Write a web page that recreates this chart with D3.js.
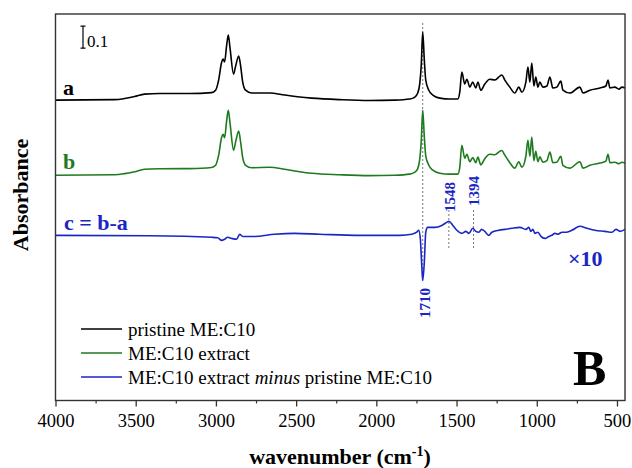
<!DOCTYPE html>
<html><head><meta charset="utf-8">
<script src="https://cdn.jsdelivr.net/npm/d3@7"></script>
<style>body{margin:0;background:#fff}svg{display:block}svg text{font-family:"Liberation Serif","Times New Roman",serif !important}</style>
</head><body>
<svg id="chart" width="632" height="468"></svg>
<script>
// wavenumbers (cm-1) shared by spectra a and b
const wavenumbers = [4000,3632,3570,3507,3445,3351,3164,3027,3002,2983,2964,2955,2946,2933,2923,2912,2890,2877,2858,2846,2833,2815,2777,2665,2571,2478,2403,2228,2047,1885,1792,1760,1742,1729,1720,1711,1701,1692,1673,1648,1604,1542,1492,1480,1467,1449,1436,1417,1399,1380,1367,1349,1324,1293,1261,1230,1218,1199,1168,1137,1112,1093,1068,1055,1043,1031,1018,1006,993,981,962,937,918,900,875,850,837,794,731,712,669,606,569,556,544,513,488,469,450];
// a: pristine ME:C10 (absorbance)
const pristine = [0,0.002,0.007,0.016,0.027,0.030,0.030,0.034,0.045,0.091,0.173,0.186,0.173,0.250,0.295,0.236,0.118,0.155,0.200,0.155,0.082,0.045,0.032,0.032,0.023,0.014,0.009,0.002,-0.002,0,0.005,0.014,0.032,0.077,0.159,0.309,0.182,0.091,0.045,0.023,0.009,0.005,0.005,0.036,0.127,0.073,0.095,0.059,0.082,0.055,0.082,0.045,0.073,0.095,0.091,0.109,0.114,0.091,0.059,0.032,0.059,0.036,0.082,0.150,0.082,0.168,0.064,0.105,0.059,0.082,0.059,0.064,0.105,0.055,0.059,0.086,0.045,0.032,0.059,0.032,0.045,0.055,0.064,0.091,0.055,0.059,0.050,0.059,0.055];
// b: ME:C10 extract (absorbance)
const extract = [0,0.002,0.007,0.016,0.027,0.029,0.030,0.035,0.045,0.091,0.173,0.186,0.170,0.248,0.295,0.236,0.114,0.152,0.200,0.150,0.080,0.045,0.034,0.036,0.027,0.016,0.009,0.002,-0.002,0,0.005,0.014,0.030,0.075,0.155,0.295,0.175,0.088,0.045,0.023,0.009,0.005,0.005,0.036,0.136,0.077,0.095,0.061,0.080,0.057,0.082,0.047,0.075,0.095,0.093,0.109,0.112,0.091,0.057,0.032,0.061,0.036,0.086,0.159,0.086,0.173,0.066,0.109,0.061,0.084,0.059,0.066,0.105,0.057,0.059,0.086,0.045,0.032,0.061,0.032,0.045,0.055,0.064,0.095,0.057,0.059,0.052,0.059,0.055];
// c = b - a (raw difference; drawn x10)
const diffWavenumbers = [4000,3414,3027,2989,2964,2946,2927,2902,2871,2852,2833,2759,2634,2509,2353,2104,1854,1779,1748,1736,1726,1717,1711,1701,1692,1680,1636,1592,1561,1548,1523,1498,1467,1442,1423,1399,1380,1361,1343,1324,1299,1280,1236,1199,1155,1105,1068,1049,1037,1024,1012,993,974,949,924,906,887,868,843,818,781,731,687,638,575,531,506,481,450];
const difference = [0,-0.0002,-0.0009,-0.0011,-0.0023,-0.0018,-0.0009,-0.0014,-0.0018,0.0005,-0.0005,-0.0005,0.0005,0.0009,0.0005,0,0,0.0005,0.0014,0.0023,-0.0014,-0.0136,-0.0205,-0.0123,0.0014,0.0036,0.0036,0.0045,0.0059,0.0064,0.0045,0.0023,0.0009,0.0018,0.0009,0.0032,0.0018,0.0014,0.0027,0.0018,0,0.0014,0.0023,0.0027,0.0032,0.0036,0.0027,0.0036,0.0018,0.0027,0.0009,0.0014,-0.0005,-0.0014,-0.0005,0,0.0009,0.0005,0.0014,0.0014,0.0023,0.0041,0.0032,0.0023,0.0018,0.0014,0.0027,0.0018,0.0027];
const diffFactor = 10;
const offsets = {a: 1.364, b: 1.023, c: 0.75};
const xTicks = [4000,3500,3000,2500,2000,1500,1000,500];
const xMinorTicks = [3750,3250,2750,2250,1750,1250,750];
const peakLabels = ["1710","1548","1394"];
const peakWavenumbers = [1711,1548,1394];
const legendLabels = ["pristine ME:C10","ME:C10 extract","ME:C10 extract minus pristine ME:C10"];

const FONT = '"Liberation Serif","Times New Roman",serif';
const colors = {a:"#000000", b:"#1e7a1e", c:"#1a26c4"};
const svg = d3.select("#chart").attr("font-family", FONT);
const L=55.5, R=625, T=14, B=400.5;
const x = d3.scaleLinear().domain([4000,450]).range([L,R]);
const y = d3.scaleLinear().domain([0,1.755]).range([B,T]);

const line = d3.line().curve(d3.curveMonotoneX);
const series = [
  {key:"a", pts: wavenumbers.map((w,i)=>[x(w), y(pristine[i]+offsets.a)])},
  {key:"b", pts: wavenumbers.map((w,i)=>[x(w), y(extract[i]+offsets.b)])},
  {key:"c", pts: diffWavenumbers.map((w,i)=>[x(w), y(difference[i]*diffFactor+offsets.c)])}
];

// dotted guides
const guide = (w,y1,y2)=>svg.append("line").attr("x1",x(w)).attr("x2",x(w)).attr("y1",y1).attr("y2",y2)
  .attr("stroke","#777").attr("stroke-width",1).attr("stroke-dasharray","2,2");
guide(peakWavenumbers[0], 23, y(offsets.c-0.205));
guide(peakWavenumbers[1], 210, 249);
guide(peakWavenumbers[2], 210, 249);

series.forEach(s=>{
  svg.append("path").attr("d", line(s.pts)).attr("fill","none")
    .attr("stroke", colors[s.key]).attr("stroke-width",1.6).attr("stroke-linejoin","round");
});

// frame
svg.append("rect").attr("x",L).attr("y",T).attr("width",R-L).attr("height",B-T)
  .attr("fill","none").attr("stroke","#333").attr("stroke-width",1.4);

// x axis
const ax = svg.append("g").attr("transform",`translate(0,${B})`)
  .call(d3.axisBottom(x).tickValues(xTicks).tickSize(6).tickFormat(d3.format("d")));
ax.attr("font-family", FONT);
ax.select(".domain").remove();
ax.selectAll("line").attr("stroke","#333").attr("stroke-width",1.3);
ax.selectAll("text").attr("font-size",18.5).attr("fill","#000").attr("dy","0.93em");
const axm = svg.append("g").attr("transform",`translate(0,${B})`)
  .call(d3.axisBottom(x).tickValues(xMinorTicks).tickSize(3).tickFormat(""));
axm.select(".domain").remove();
axm.selectAll("line").attr("stroke","#333").attr("stroke-width",1.2);

svg.append("text").attr("x",340).attr("y",464).attr("text-anchor","middle")
  .attr("font-size",22).attr("font-weight","bold")
  .html('wavenumber (cm<tspan dy="-8" font-size="14">-1</tspan><tspan dy="8">)</tspan>');
svg.append("text").attr("transform","translate(28,195) rotate(-90)").attr("text-anchor","middle")
  .attr("font-size",22).attr("font-weight","bold").text("Absorbance");

// scale bar
const sb = svg.append("g").attr("stroke","#000").attr("stroke-width",1.2);
sb.append("line").attr("x1",83).attr("x2",83).attr("y1",y(1.70)).attr("y2",y(1.60));
sb.append("line").attr("x1",80.5).attr("x2",85.5).attr("y1",y(1.70)).attr("y2",y(1.70));
sb.append("line").attr("x1",80.5).attr("x2",85.5).attr("y1",y(1.60)).attr("y2",y(1.60));
svg.append("text").attr("x",87).attr("y",47).attr("font-size",17).text("0.1");

// series labels
svg.append("text").attr("x",63).attr("y",95).attr("font-size",22).attr("font-weight","bold").attr("fill",colors.a).text("a");
svg.append("text").attr("x",63).attr("y",169).attr("font-size",22).attr("font-weight","bold").attr("fill",colors.b).text("b");
svg.append("text").attr("x",64).attr("y",230).attr("font-size",22).attr("font-weight","bold").attr("fill",colors.c).text("c = b-a");
svg.append("text").attr("x",568).attr("y",266).attr("font-size",22).attr("font-weight","bold").attr("fill",colors.c).text("×10");

// peak labels
const labelY = [303,197,191];
const labelDx = [7,6,5];
peakLabels.forEach((t,i)=>{
  svg.append("text").attr("transform",`translate(${x(peakWavenumbers[i])+labelDx[i]},${labelY[i]}) rotate(-90)`).attr("text-anchor","middle")
    .attr("font-size",15).attr("font-weight","bold").attr("fill",colors.c).text(t);
});

// legend
const lg = svg.append("g");
legendLabels.forEach((t,i)=>{
  const yy = 329 + i*24;
  lg.append("line").attr("x1",81).attr("x2",122).attr("y1",yy).attr("y2",yy)
    .attr("stroke",[colors.a,colors.b,colors.c][i]).attr("stroke-width",1.6);
  const tx = lg.append("text").attr("x",128).attr("y",yy+6.5).attr("font-size",19).attr("fill","#000");
  if(i===2){
    tx.append("tspan").text("ME:C10 extract ");
    tx.append("tspan").attr("font-style","italic").text("minus");
    tx.append("tspan").text(" pristine ME:C10");
  } else tx.text(t);
});

svg.append("text").attr("x",573).attr("y",385).attr("font-size",50).attr("font-weight","bold").text("B");
</script>
</body></html>
